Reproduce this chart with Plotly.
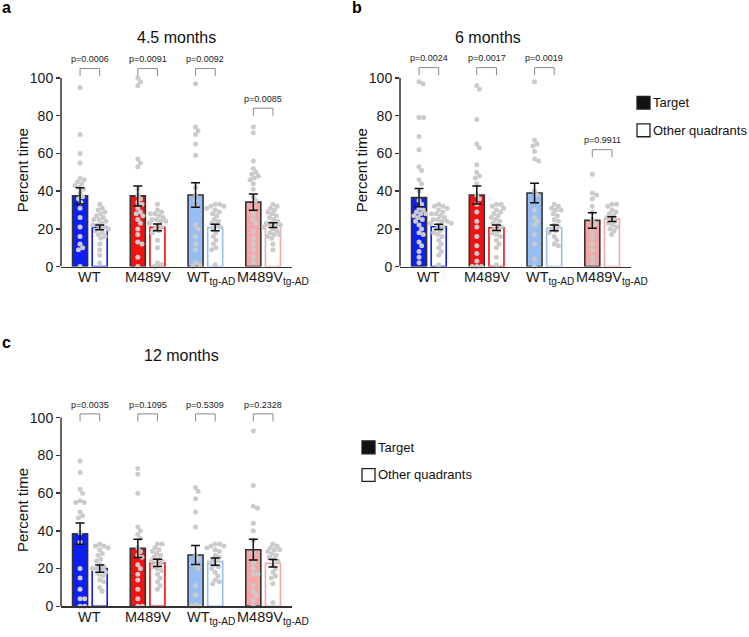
import math
import plotly.graph_objects as go

W, H = 749, 637
FONT = "Liberation Sans"

# ---------------- data ----------------
groups = ["WT", "M489V", "WT<sub>tg-AD</sub>", "M489V<sub>tg-AD</sub>"]
group_colors = ["#0d1ff2", "#f21212", "#96bef2", "#f5a6a6"]

# a: 4.5 months
a_title = "4.5 months"
a_target_mean = [37.5, 37.5, 38.0, 34.2]
a_target_sem = [4.3, 5.3, 6.5, 4.3]
a_other_mean = [20.8, 20.8, 20.7, 22.0]
a_other_sem = [1.3, 1.8, 1.7, 1.3]
a_p = ["p=0.0006", "p=0.0091", "p=0.0092", "p=0.0085"]
a_target_pts = [
    [95, 70, 60, 55, 47, 46, 45, 44, 43, 42, 41, 39, 37, 36, 34, 31, 26, 21, 16, 12, 10, 9, 0],
    [100, 98, 96, 57, 55, 53, 41, 38, 36, 34, 33, 31, 29, 28, 27, 25, 23, 20, 17, 13, 12, 5, 0],
    [97, 74, 72, 70, 65, 59, 42, 38, 35, 32, 22, 20, 16, 12, 9, 2, 1, 0],
    [74, 71, 56, 52, 50, 49, 48, 47, 46, 44, 41, 37, 35, 31, 28, 25, 23, 19, 15, 12, 9, 5, 2],
]
a_other_pts = [
    [33, 31, 30, 29, 28, 27, 26, 25, 25, 24, 23, 22, 22, 21, 20, 20, 19, 18, 17, 16, 15, 12, 9, 6, 2],
    [33, 30, 29, 28, 28, 27, 26, 25, 25, 24, 24, 23, 22, 21, 20, 19, 18, 14, 10, 2, 1, 0],
    [33, 33, 32, 32, 31, 30, 29, 28, 27, 25, 24, 23, 22, 21, 20, 18, 16, 14, 12, 10, 9, 1],
    [33, 32, 31, 30, 29, 28, 27, 26, 25, 24, 23, 23, 22, 22, 21, 20, 19, 18, 17, 17, 16, 15, 12, 9],
]

# b: 6 months
b_title = "6 months"
b_target_mean = [36.6, 38.0, 39.0, 24.5]
b_target_sem = [4.8, 4.8, 5.2, 4.1]
b_other_mean = [21.1, 20.6, 20.5, 25.2]
b_other_sem = [1.4, 1.5, 1.5, 1.3]
b_p = ["p=0.0024", "p=0.0017", "p=0.0019", "p=0.9911"]
b_target_pts = [
    [98, 97, 79, 79, 69, 62, 53, 51, 46, 44, 40, 35, 33, 31, 30, 29, 28, 28, 27, 26, 25, 24, 22, 20, 18, 17, 13, 11, 8, 5, 2],
    [96, 94, 78, 65, 63, 54, 50, 48, 47, 44, 38, 36, 33, 29, 24, 21, 16, 11, 7, 3, 0, 0, 0],
    [98, 67, 65, 64, 61, 57, 56, 40, 38, 30, 26, 24, 22, 17, 12, 4, 0],
    [49, 39, 38, 36, 32, 29, 25, 23, 21, 18, 15, 12, 9, 5, 2],
]
b_other_pts = [
    [33, 32, 32, 31, 30, 29, 28, 28, 27, 26, 25, 25, 24, 24, 23, 23, 22, 21, 20, 19, 18, 17, 16, 14, 12, 10, 8, 6, 1],
    [33, 33, 32, 31, 30, 29, 28, 27, 26, 25, 24, 23, 22, 21, 20, 19, 18, 17, 16, 14, 12, 10, 5, 1],
    [33, 32, 31, 30, 30, 28, 27, 25, 24, 22, 21, 20, 19, 18, 16, 14, 12, 11],
    [33, 33, 32, 30, 29, 28, 27, 26, 25, 24, 23, 22, 21, 20, 19, 17],
]

# c: 12 months
c_title = "12 months"
c_target_mean = [38.5, 30.7, 27.2, 30.0]
c_target_sem = [5.6, 4.8, 5.0, 5.5]
c_other_mean = [20.0, 23.0, 23.7, 22.8]
c_other_sem = [1.9, 1.9, 1.9, 2.0]
c_p = ["p=0.0035", "p=0.1095", "p=0.5309", "p=0.2328"]
c_target_pts = [
    [77, 71, 62, 60, 56, 55, 55, 50, 48, 47, 39, 34, 20, 15, 9, 4, 4, 0, 0],
    [73, 70, 60, 42, 40, 38, 36, 31, 29, 27, 26, 22, 20, 17, 14, 9, 4, 0, 0],
    [63, 61, 57, 50, 42, 27, 25, 22, 20, 11, 6, 1, 0, 0],
    [93, 64, 53, 52, 44, 40, 35, 28, 23, 20, 17, 17, 11, 8, 6, 3, 0],
]
c_other_pts = [
    [33, 32, 32, 31, 30, 28, 27, 25, 24, 22, 21, 20, 20, 19, 18, 17, 16, 14, 13, 10, 8],
    [33, 33, 31, 30, 29, 28, 27, 26, 25, 24, 24, 23, 22, 21, 20, 19, 17, 15, 13, 11, 9],
    [33, 33, 32, 32, 31, 30, 29, 27, 26, 25, 24, 23, 22, 21, 20, 18, 16, 14, 13, 12],
    [33, 32, 31, 30, 30, 29, 28, 27, 26, 25, 24, 22, 20, 18, 16, 15, 12, 2],
]

legend_labels = ["Target", "Other quadrants"]
y_tick_vals = [0, 20, 40, 60, 80, 100]
y_label = "Percent time"

# ---------------- layout config (pixels) ----------------
PPU = 1.91          # px per y unit
YMAX = 115
OFF = 0.17          # bar offset from group centre (x units)
BW = 0.26           # bar width (x units)
XLAB_SHIFT = [0, 0, 6, 10]

panels = [
    dict(letter="a", title=a_title, tm=a_target_mean, ts=a_target_sem, om=a_other_mean, os=a_other_sem,
         p=a_p, tp=a_target_pts, op=a_other_pts, x0=61, x1=292, ybase=270,
         brk=[105, 105, 105, 84], title_x=176, title_y=38, ylab_x=22,
         letter_x=0, letter_y=8, legend=None),
    dict(letter="b", title=b_title, tm=b_target_mean, ts=b_target_sem, om=b_other_mean, os=b_other_sem,
         p=b_p, tp=b_target_pts, op=b_other_pts, x0=400, x1=631, ybase=270,
         brk=[105.5, 105.5, 105.5, 62], title_x=488, title_y=38, ylab_x=361,
         letter_x=350, letter_y=8, legend=(637, 104)),
    dict(letter="c", title=c_title, tm=c_target_mean, ts=c_target_sem, om=c_other_mean, os=c_other_sem,
         p=c_p, tp=c_target_pts, op=c_other_pts, x0=61, x1=292, ybase=614,
         brk=[102, 102, 102, 102], title_x=181, title_y=360, ylab_x=22,
         letter_x=0, letter_y=347, legend=(362, 453)),
]


def px(x):
    return x / W


def py(y):
    return 1 - y / H


def swarm(vals, d):
    placed = []
    out = [0.0] * len(vals)
    order = sorted(range(len(vals)), key=lambda k: -vals[k])
    for k in order:
        y = vals[k] * PPU
        cands = [0.0]
        for (qx, qy) in placed:
            dy = abs(qy - y)
            if dy < d:
                dx = math.sqrt(d * d - dy * dy)
                cands += [qx + dx, qx - dx]
        cands.sort(key=lambda c: (abs(c), -c))
        chosen = 0.0
        for c in cands:
            if all((c - qx) ** 2 + (y - qy) ** 2 >= d * d - 1e-6 for qx, qy in placed):
                chosen = c
                break
        placed.append((chosen, y))
        out[k] = chosen
    return out


fig = go.Figure()
shapes = []
annotations = []
lay = {}

for i, P in enumerate(panels):
    sfx = "" if i == 0 else str(i + 1)
    xa, ya = "x" + sfx, "y" + sfx
    ppx = (P["x1"] - P["x0"]) / 4.0
    top = P["ybase"] - YMAX * PPU
    lay["xaxis" + sfx] = dict(domain=[px(P["x0"]), px(P["x1"])], range=[0, 4], anchor=ya,
                              showline=True, linecolor="#333333", linewidth=1.5, ticks="",
                              showticklabels=False,
                              showgrid=False, zeroline=False, fixedrange=True)
    lay["yaxis" + sfx] = dict(domain=[py(P["ybase"]), py(top)], range=[0, YMAX], anchor=xa,
                              showline=False, ticks="outside", ticklen=4, tickwidth=1.5,
                              tickcolor="#333333", tickvals=y_tick_vals,
                              tickfont=dict(size=14, color="#1a1a1a", family=FONT),
                              showgrid=False, zeroline=False, fixedrange=True)
    xt = [g + 0.5 - OFF for g in range(4)]
    xo = [g + 0.5 + OFF for g in range(4)]
    # bars
    fig.add_trace(go.Bar(x=xt, y=P["tm"], width=BW, xaxis=xa, yaxis=ya, hoverinfo="skip",
                         marker=dict(color=group_colors, line=dict(color="#333333", width=1.6))))
    fig.add_trace(go.Bar(x=xo, y=P["om"], width=BW, xaxis=xa, yaxis=ya, hoverinfo="skip",
                         marker=dict(color="white", line=dict(color=group_colors, width=1.6))))
    # dots
    dx, dy = [], []
    for g in range(4):
        for xs, pts in ((xt[g], P["tp"][g]), (xo[g], P["op"][g])):
            offs = swarm(pts, 4.6)
            for v, o in zip(pts, offs):
                dx.append(xs + o / ppx)
                dy.append(v)
    fig.add_trace(go.Scatter(x=dx, y=dy, mode="markers", xaxis=xa, yaxis=ya, cliponaxis=False,
                             hoverinfo="skip",
                             marker=dict(size=5, color="#cbcbcb", line=dict(width=0))))
    # error bars
    fig.add_trace(go.Scatter(x=xt + xo, y=P["tm"] + P["om"], mode="markers", xaxis=xa, yaxis=ya,
                             hoverinfo="skip", marker=dict(size=1, color="rgba(0,0,0,0)"),
                             error_y=dict(type="data", array=P["ts"] + P["os"], visible=True,
                                          color="#111111", thickness=1.5, width=4.5)))
    # y axis line (0 to 100)
    shapes.append(dict(type="line", xref="paper", yref=ya, x0=px(P["x0"]), x1=px(P["x0"]),
                       y0=0, y1=100, line=dict(color="#333333", width=1.5)))
    # category labels
    for g in range(4):
        annotations.append(dict(x=g + 0.5, y=py(P["ybase"] + 1.5), xref=xa, yref="paper",
                                text=groups[g], showarrow=False, xanchor="center", yanchor="top",
                                xshift=XLAB_SHIFT[g], borderpad=0,
                                font=dict(size=14.5, color="#1a1a1a", family=FONT)))
    # brackets + p values
    for g in range(4):
        h = P["brk"][g]
        shapes.append(dict(type="path", xref=xa, yref=ya,
                           path=f"M {xt[g]},{h-4} L {xt[g]},{h} L {xo[g]},{h} L {xo[g]},{h-4}",
                           line=dict(color="#8a8a8a", width=1)))
        annotations.append(dict(x=g + 0.5, y=h + 1.2, xref=xa, yref=ya, text=P["p"][g],
                                showarrow=False, yanchor="bottom", xanchor="center",
                                font=dict(size=9, color="#222222", family=FONT)))
    # title
    annotations.append(dict(x=px(P["title_x"]), y=py(P["title_y"]), xref="paper", yref="paper",
                            text=P["title"], showarrow=False, xanchor="center", yanchor="middle",
                            font=dict(size=16, color="#111111", family=FONT)))
    # y label
    annotations.append(dict(x=px(P["ylab_x"]), y=py(P["ybase"] - 100 * PPU / 2 - 2), xref="paper",
                            yref="paper", text=y_label, showarrow=False, textangle=-90,
                            xanchor="center", yanchor="middle",
                            font=dict(size=15, color="#111111", family=FONT)))
    # panel letter
    annotations.append(dict(x=px(P["letter_x"]), y=py(P["letter_y"]), xref="paper", yref="paper",
                            text="<b>" + P["letter"] + "</b>", showarrow=False, xanchor="left",
                            yanchor="middle", font=dict(size=16, color="#000000", family=FONT)))
    # legend
    if P["legend"]:
        lx, ly = P["legend"]
        for j, lab in enumerate(legend_labels):
            cy = ly + j * 28
            fill = "#111111" if j == 0 else "white"
            shapes.append(dict(type="rect", xref="paper", yref="paper",
                               x0=px(lx), x1=px(lx + 13), y0=py(cy - 6.5), y1=py(cy + 6.5),
                               fillcolor=fill, line=dict(color="#222222", width=1.3)))
            annotations.append(dict(x=px(lx + 15), y=py(cy), xref="paper", yref="paper", text=lab,
                                    showarrow=False, xanchor="left", yanchor="middle", borderpad=0,
                                    font=dict(size=13, color="#111111", family=FONT)))

fig.update_layout(width=W, height=H, margin=dict(l=0, r=0, t=0, b=0), showlegend=False,
                  paper_bgcolor="white", plot_bgcolor="white", barmode="overlay",
                  hovermode=False,
                  font=dict(family=FONT), shapes=shapes, annotations=annotations, **lay)
fig.write_html("out.html", config={"displayModeBar": False, "staticPlot": True},
               post_script="document.body.style.margin='0';document.body.style.overflow='hidden';")
